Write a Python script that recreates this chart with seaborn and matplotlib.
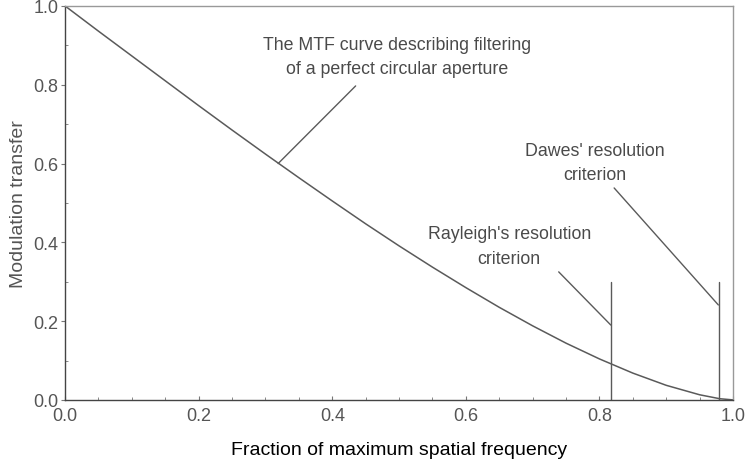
import matplotlib
matplotlib.use("Agg")
import matplotlib.pyplot as plt
import seaborn as sns
import pandas as pd
from matplotlib.ticker import MultipleLocator

# Data
freq = [0.00, 0.05, 0.10, 0.15, 0.20, 0.25, 0.30, 0.35, 0.40, 0.45, 0.50,
        0.55, 0.60, 0.65, 0.70, 0.75, 0.80, 0.85, 0.90, 0.95, 0.98, 1.00]
mtf = [1.000, 0.936, 0.873, 0.810, 0.747, 0.685, 0.624, 0.564, 0.505, 0.447, 0.391,
       0.337, 0.285, 0.235, 0.188, 0.144, 0.104, 0.068, 0.037, 0.013, 0.003, 0.000]
criteria_x = [0.817, 0.979]
criteria_top = [0.30, 0.30]
x_ticks = [0.0, 0.2, 0.4, 0.6, 0.8, 1.0]
y_ticks = [0.0, 0.2, 0.4, 0.6, 0.8, 1.0]

sns.set_style("ticks")
plt.rcParams['font.family'] = ['Liberation Sans', 'DejaVu Sans']

LINE = "#5a5a5a"
TXT = "#4a4a4a"

fig = plt.figure(figsize=(7.48, 4.64), dpi=100)
ax = fig.add_axes([0.087, 0.136, 0.893, 0.849])

df = pd.DataFrame({"freq": freq, "mtf": mtf})
sns.lineplot(data=df, x="freq", y="mtf", ax=ax, color=LINE, linewidth=1.1)

for cx, ct in zip(criteria_x, criteria_top):
    ax.plot([cx, cx], [0, ct], color=LINE, linewidth=1.0)

# Annotations with leader lines
ax.text(0.497, 0.872, "The MTF curve describing filtering\nof a perfect circular aperture",
        ha="center", va="center", fontsize=12.8, color=TXT, linespacing=1.55)
ax.plot([0.435, 0.319], [0.797, 0.600], color=LINE, linewidth=1.0)

ax.text(0.665, 0.391, "Rayleigh's resolution\ncriterion", ha="center", va="center",
        fontsize=12.8, color=TXT, linespacing=1.6)
ax.plot([0.739, 0.817], [0.325, 0.19], color=LINE, linewidth=1.0)

ax.text(0.793, 0.602, "Dawes' resolution\ncriterion", ha="center", va="center",
        fontsize=12.8, color=TXT, linespacing=1.55)
ax.plot([0.822, 0.978], [0.538, 0.241], color=LINE, linewidth=1.0)

ax.set_xlim(0, 1.0)
ax.set_ylim(0, 1.0)
ax.set_xticks(x_ticks)
ax.set_yticks(y_ticks)
ax.set_xticklabels([f"{v:.1f}" for v in x_ticks])
ax.set_yticklabels([f"{v:.1f}" for v in y_ticks])
ax.xaxis.set_minor_locator(MultipleLocator(0.05))
ax.yaxis.set_minor_locator(MultipleLocator(0.1))
ax.tick_params(axis="both", which="major", labelsize=13, labelcolor="#555555",
               color="#777777", length=3, width=0.8, direction="in")
ax.tick_params(axis="y", which="major", direction="out", pad=2)
ax.tick_params(axis="both", which="minor", color="#888888", length=2.5, width=0.7,
               direction="in")
ax.tick_params(axis="x", pad=5)

for side in ["left", "bottom"]:
    ax.spines[side].set_color("#444444")
    ax.spines[side].set_linewidth(1.0)
for side in ["top", "right"]:
    ax.spines[side].set_visible(True)
    ax.spines[side].set_color("#999999")
    ax.spines[side].set_linewidth(1.0)

ax.set_xlabel("Fraction of maximum spatial frequency", fontsize=14, color="black",
              labelpad=12)
ax.set_ylabel("Modulation transfer", fontsize=14, color="#555555", labelpad=4)

fig.savefig("out.png", dpi=100)
